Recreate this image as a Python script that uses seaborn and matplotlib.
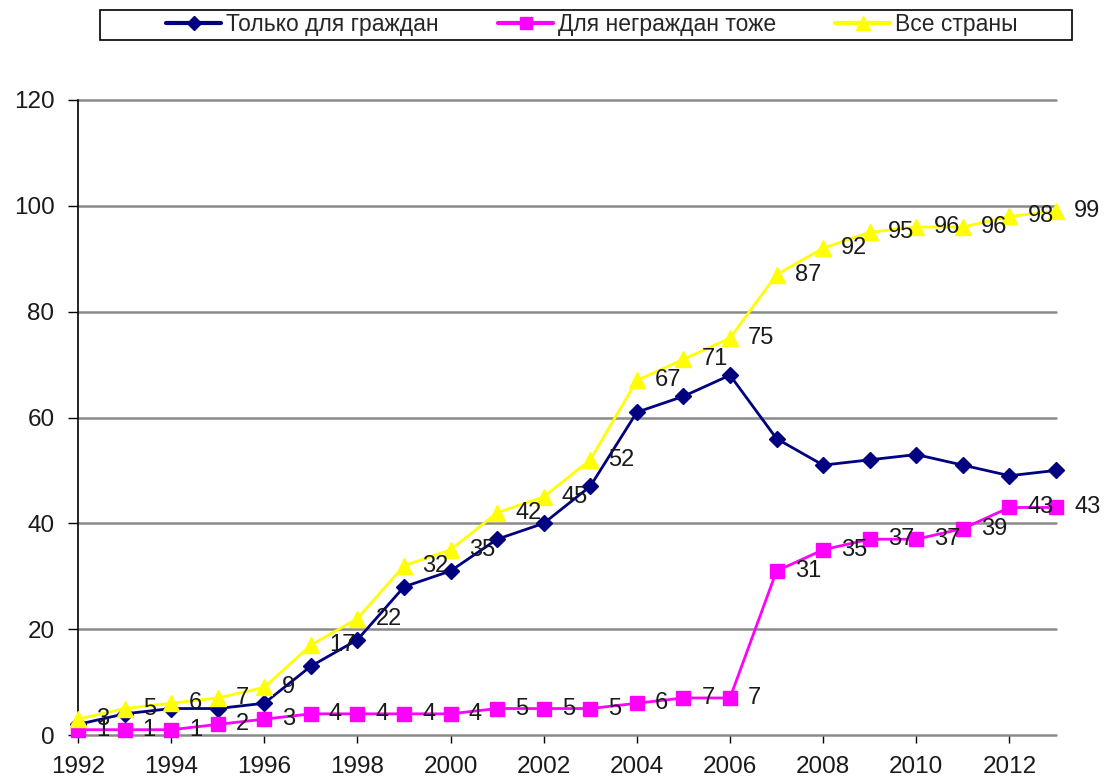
import matplotlib
matplotlib.use("Agg")
import matplotlib.pyplot as plt
import pandas as pd
import seaborn as sns
from matplotlib.patches import Rectangle

# ---- data ----
years = list(range(1992, 2014))
citizens_only = [2, 4, 5, 5, 6, 13, 18, 28, 31, 37, 40, 47, 61, 64, 68, 56, 51, 52, 53, 51, 49, 50]
noncitizens_too = [1, 1, 1, 2, 3, 4, 4, 4, 4, 5, 5, 5, 6, 7, 7, 31, 35, 37, 37, 39, 43, 43]
all_countries = [3, 5, 6, 7, 9, 17, 22, 32, 35, 42, 45, 52, 67, 71, 75, 87, 92, 95, 96, 96, 98, 99]
series_names = ["Только для граждан", "Для неграждан тоже", "Все страны"]
x_ticks = list(range(1992, 2013, 2))
y_ticks = [0, 20, 40, 60, 80, 100, 120]

sns.set_style("white")
plt.rcParams["font.family"] = ["Liberation Sans", "DejaVu Sans"]

fig = plt.figure(figsize=(11.09, 7.78), dpi=100)
ax = fig.add_axes([78 / 1109, 1 - 735 / 778, (1056 - 78) / 1109, (735 - 100) / 778])

df = pd.DataFrame({
    "year": years * 3,
    "value": citizens_only + noncitizens_too + all_countries,
    "series": [series_names[0]] * len(years) + [series_names[1]] * len(years) + [series_names[2]] * len(years),
})

styles = {
    series_names[0]: dict(color="#000080", marker="D", markersize=8),
    series_names[1]: dict(color="#FF00FF", marker="s", markersize=10),
    series_names[2]: dict(color="#FFFF00", marker="^", markersize=12),
}

# gridlines
for yv in y_ticks:
    ax.axhline(yv, color="#8a8a8a", lw=1.8, zorder=1)

handles = []
for name in series_names:
    st = styles[name]
    sub = df[df["series"] == name]
    sns.lineplot(data=sub, x="year", y="value", ax=ax, color=st["color"],
                 marker=st["marker"], markersize=st["markersize"],
                 markeredgecolor=st["color"], markeredgewidth=1,
                 linewidth=2, zorder=3, legend=False)
    handles.append(plt.Line2D([], [], color=st["color"], marker=st["marker"],
                              markersize=st["markersize"] * 0.85,
                              markeredgecolor=st["color"], linewidth=3))

# data labels (yellow and magenta series)
for series in (noncitizens_too, all_countries):
    for x, v in zip(years, series):
        ax.annotate(str(v), (x, v), xytext=(13, 0), textcoords="offset points",
                    ha="left", va="center", fontsize=17, color="#1a1a1a", zorder=5)

ax.set_xlim(1992, 2013)
ax.set_ylim(0, 120)
ax.set_xticks(x_ticks)
ax.set_yticks(y_ticks)
ax.set_xticklabels([str(t) for t in x_ticks], fontsize=17.5, color="#1a1a1a")
ax.set_yticklabels([str(t) for t in y_ticks], fontsize=17.5, color="#1a1a1a")
ax.set_xlabel("")
ax.set_ylabel("")
ax.tick_params(axis="x", direction="out", length=6, width=1, color="black", pad=9, bottom=True)
ax.tick_params(axis="y", direction="out", length=7, width=1, color="black", pad=10, left=True)

for s in ["top", "right", "bottom"]:
    ax.spines[s].set_visible(False)
ax.spines["left"].set_color("black")
ax.spines["left"].set_linewidth(1.2)
for line in ax.lines:
    line.set_clip_on(False)

# legend
fig.patches.append(Rectangle((100 / 1109, 1 - 40 / 778), 972 / 1109, 30 / 778,
                             transform=fig.transFigure, fill=False,
                             edgecolor="black", linewidth=1.2))
fig.legend(handles, series_names, loc="center", bbox_to_anchor=(592 / 1109, 1 - 25 / 778),
           ncol=3, frameon=False, fontsize=16.5, handlelength=2.4, handletextpad=0.2,
           columnspacing=2.6, borderpad=0, borderaxespad=0)

fig.savefig("out.png", dpi=100)
